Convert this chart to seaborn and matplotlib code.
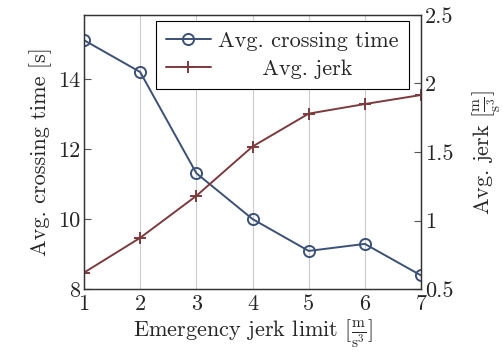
import matplotlib
matplotlib.use("Agg")
import matplotlib.pyplot as plt
import seaborn as sns
import pandas as pd

jerk_limit = [1, 2, 3, 4, 5, 6, 7]
crossing_time = [15.11, 14.2, 11.31, 10.0, 9.09, 9.29, 8.39]
avg_jerk = [0.62, 0.874, 1.18, 1.54, 1.78, 1.85, 1.916]

blue = "#3b5078"
red = "#7d3a3d"

sns.set_style("ticks")
plt.rcParams["font.family"] = "serif"
plt.rcParams["font.serif"] = ["cmr10", "DejaVu Serif"]
plt.rcParams["mathtext.fontset"] = "cm"
plt.rcParams["axes.formatter.use_mathtext"] = True
plt.rcParams["font.size"] = 16

df = pd.DataFrame({"limit": jerk_limit, "time": crossing_time, "jerk": avg_jerk})

fig = plt.figure(figsize=(5.03, 3.56), dpi=100)
ax = fig.add_axes([0.167, 0.188, 0.670, 0.770])
ax2 = ax.twinx()

sns.lineplot(data=df, x="limit", y="time", ax=ax, color=blue, marker="o",
             markersize=8, markerfacecolor="none", markeredgecolor=blue,
             markeredgewidth=1.4, linewidth=1.4, label="Avg. crossing time", legend=False)
sns.lineplot(data=df, x="limit", y="jerk", ax=ax2, color=red, marker="+",
             markersize=9, markeredgecolor=red, markeredgewidth=1.4,
             linewidth=1.4, label="      Avg. jerk", legend=False)

ax.set_xlim(1, 7)
ax.set_ylim(8, 15.83)
ax2.set_ylim(0.5, 2.5)
ax.set_xticks(jerk_limit)
ax.set_yticks([8, 10, 12, 14])
ax2.set_yticks([0.5, 1, 1.5, 2, 2.5])
ax2.set_yticklabels(["0.5", "1", "1.5", "2", "2.5"])
ax.set_yticklabels(["8", "10", "12", "14"])
ax.set_xticklabels([str(v) for v in jerk_limit])

ax.xaxis.grid(True, color="#cccccc", linewidth=0.8)
ax.set_axisbelow(True)
ax.tick_params(axis="y", direction="in", length=5, color="#555555", pad=3)
ax.tick_params(axis="x", length=0, pad=4)
ax2.tick_params(axis="y", direction="in", length=5, color="#555555", pad=3)
for a in (ax, ax2):
    for s in a.spines.values():
        s.set_color("#333333")
        s.set_linewidth(0.9)

ax.set_xlabel(r"Emergency jerk limit [$\frac{\mathrm{m}}{\mathrm{s}^3}$]", labelpad=2)
ax.set_ylabel("Avg. crossing time [s]", labelpad=4)
ax2.set_ylabel(r"Avg. jerk [$\frac{\mathrm{m}}{\mathrm{s}^3}$]", labelpad=12)

h1, l1 = ax.get_legend_handles_labels()
h2, l2 = ax2.get_legend_handles_labels()
leg = ax2.legend(h1 + h2, l1 + l2, loc="upper left", bbox_to_anchor=(0.214, 0.978),
                 borderaxespad=0, frameon=True, fancybox=False, edgecolor="black",
                 framealpha=1, handlelength=2.0, handletextpad=0.35, borderpad=0.45,
                 labelspacing=0.4, fontsize=16)
leg.get_frame().set_linewidth(0.8)

fig.savefig("out.png", dpi=100)
